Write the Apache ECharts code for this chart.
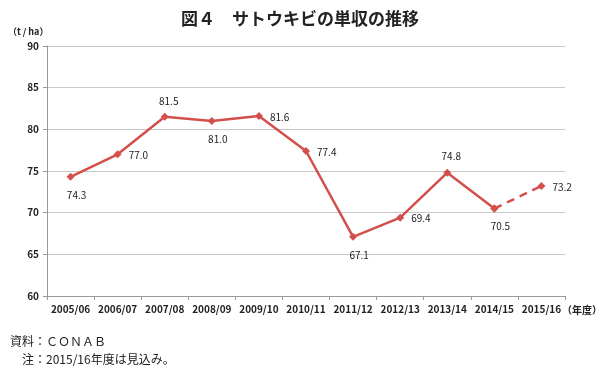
<!DOCTYPE html>
<html><head><meta charset="utf-8">
<script src="https://cdn.jsdelivr.net/npm/echarts@6/dist/echarts.min.js"></script>
<style>html,body{margin:0;padding:0;background:#fff}#c{width:600px;height:369px}</style>
</head><body><div id="c"></div>
<script>
const categories = ['2005/06','2006/07','2007/08','2008/09','2009/10','2010/11','2011/12','2012/13','2013/14','2014/15','2015/16'];
const yields = [74.3, 77.0, 81.5, 81.0, 81.6, 77.4, 67.1, 69.4, 74.8, 70.5, 73.2];
const labelPos = ['bottom','right','top','bottom','right','right','bottom','right','top','bottom','right'];
const yTicks = [60, 65, 70, 75, 80, 85, 90];
const estimateStart = 9;

const color = '#d24f4c';
const font = '"Noto Sans CJK JP", "Noto Sans", sans-serif';
function lab(i) {
  const p = labelPos[i];
  return {position: p, distance: p === 'bottom' ? 9 : 7,
    offset: p === 'bottom' ? [6, 0] : (p === 'top' ? [4, 0] : [0, 1])};
}
const solid = yields.map((v, i) => i <= estimateStart ? {value: v, label: lab(i)} : null);
const dashed = yields.map((v, i) => i >= estimateStart ? {value: v, label: Object.assign(lab(i), {show: i > estimateStart})} : null);

const chart = echarts.init(document.getElementById('c'), null, {renderer: 'canvas'});
chart.setOption({
  animation: false,
  title: {text: '図４　サトウキビの単収の推移', left: 'center', top: 5,
    textStyle: {fontFamily: font, fontSize: 17, fontWeight: 'bold', color: '#222'}},
  grid: {left: 47, right: 35, top: 46, bottom: 73},
  xAxis: {type: 'category', data: categories, boundaryGap: true,
    axisLine: {lineStyle: {color: '#999'}},
    axisTick: {show: true, alignWithLabel: false, length: 4, lineStyle: {color: '#999'}},
    axisLabel: {color: '#222', fontSize: 10, fontWeight: 'bold', fontFamily: font, margin: 8, interval: 0}},
  yAxis: {type: 'value', min: yTicks[0], max: yTicks[yTicks.length-1], interval: 5,
    axisLine: {show: true, lineStyle: {color: '#999'}},
    axisTick: {show: true, length: 4, lineStyle: {color: '#999'}},
    splitLine: {lineStyle: {color: '#c8c8c8'}},
    axisLabel: {color: '#222', fontSize: 10, fontWeight: 'bold', fontFamily: font, margin: 8}},
  series: [
    {type: 'line', data: solid, connectNulls: false, symbol: 'diamond', symbolSize: 8,
      lineStyle: {color: color, width: 2.5}, itemStyle: {color: color},
      label: {show: true, color: '#222', fontSize: 10, fontFamily: font, formatter: p => p.value.toFixed(1)}},
    {type: 'line', data: dashed, symbol: 'diamond', symbolSize: 8,
      lineStyle: {color: color, width: 2.5, type: [8, 6]}, itemStyle: {color: color},
      label: {show: true, color: '#222', fontSize: 10, fontFamily: font, formatter: p => p.value.toFixed(1)}}
  ],
  graphic: [
    {type: 'text', left: 8, top: 27, style: {text: '（t / ha）', fontSize: 9, fontWeight: 'bold', fontFamily: font, fill: '#222'}},
    {type: 'text', left: 562, top: 305, style: {text: '（年度）', fontSize: 10, fontWeight: 'bold', fontFamily: font, fill: '#222'}},
    {type: 'text', left: 10, top: 335, style: {text: '資料：ＣＯＮＡＢ', fontSize: 12, fontFamily: font, fill: '#222'}},
    {type: 'text', left: 10, top: 353, style: {text: '　注：2015/16年度は見込み。', fontSize: 12, fontFamily: font, fill: '#222'}}
  ]
});
</script></body></html>
